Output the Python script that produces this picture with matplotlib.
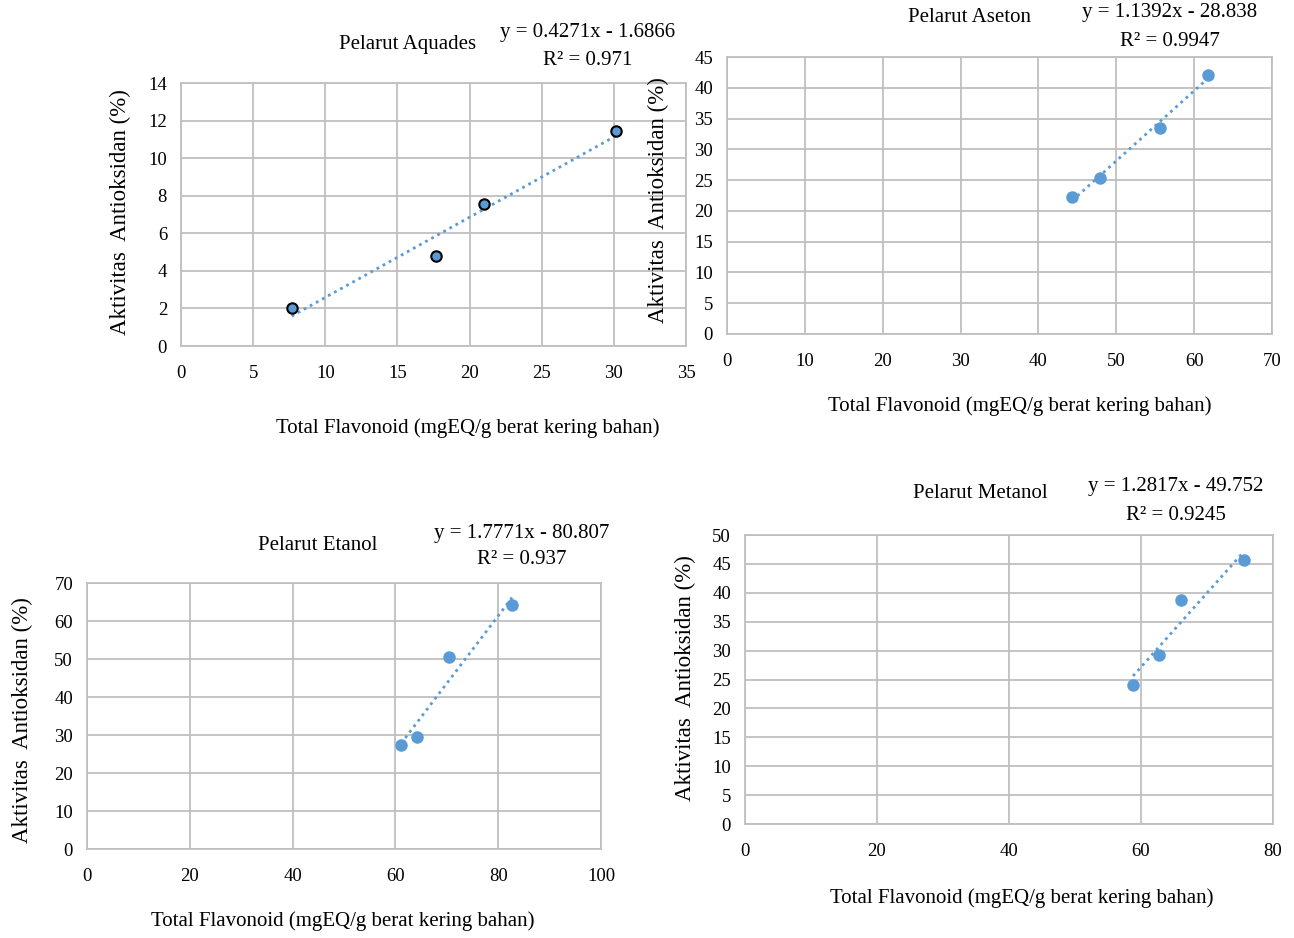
import numpy as np
import matplotlib
matplotlib.use("Agg")
import matplotlib.pyplot as plt

plt.rcParams['font.family'] = ['Liberation Serif', 'DejaVu Serif']

# data
aquades_x = [7.67, 17.65, 21.02, 30.15]
aquades_y = [2.0, 4.81, 7.56, 11.46]
aseton_x = [44.35, 47.9, 55.6, 61.8]
aseton_y = [22.2, 25.3, 33.5, 42.0]
etanol_x = [61.1, 64.2, 70.4, 82.7]
etanol_y = [27.3, 29.6, 50.4, 64.1]
metanol_x = [58.8, 62.7, 66.0, 75.6]
metanol_y = [24.1, 29.3, 38.8, 45.6]

titles = ['Pelarut Aquades', 'Pelarut Aseton', 'Pelarut Etanol', 'Pelarut Metanol']
slopes = [0.4271, 1.1392, 1.7771, 1.2817]
intercepts = [-1.6866, -28.838, -80.807, -49.752]
r2_text = ['0.971', '0.9947', '0.937', '0.9245']
eq_text = ['y = 0.4271x - 1.6866', 'y = 1.1392x - 28.838',
           'y = 1.7771x - 80.807', 'y = 1.2817x - 49.752']

W, H = 1294, 938
fig = plt.figure(figsize=(W / 100, H / 100), dpi=100)

def px(x, y):
    return x / W, 1 - y / H

blue = '#5B9BD5'
grid = '#BFBFBF'

# left, right, top, bottom in pixels; x range, y range, ticks
panels = [
    dict(x=aquades_x, y=aquades_y, box=(181, 686, 83, 346), xlim=(0, 35), xstep=5,
         ylim=(0, 14), ystep=2, edge='black',
         title=(408, 44), eq=(588, 32), r2=(588, 60), ylab=(120, 212), xlab=(468, 428)),
    dict(x=aseton_x, y=aseton_y, box=(727, 1272, 57, 334), xlim=(0, 70), xstep=10,
         ylim=(0, 45), ystep=5, edge=blue,
         title=(970, 18), eq=(1170, 13), r2=(1170, 41), ylab=(658, 200), xlab=(1020, 406)),
    dict(x=etanol_x, y=etanol_y, box=(87, 601, 583, 849), xlim=(0, 100), xstep=20,
         ylim=(0, 70), ystep=10, edge=blue,
         title=(318, 545), eq=(522, 533), r2=(522, 560), ylab=(22, 720), xlab=(343, 921)),
    dict(x=metanol_x, y=metanol_y, box=(745, 1273, 535, 824), xlim=(0, 80), xstep=20,
         ylim=(0, 50), ystep=5, edge=blue,
         title=(980, 494), eq=(1176, 486), r2=(1176, 515), ylab=(685, 678), xlab=(1022, 898)),
]

for i, p in enumerate(panels):
    l, r, t, b = p['box']
    ax = fig.add_axes([l / W, 1 - b / H, (r - l) / W, (b - t) / H])
    ax.set_xlim(*p['xlim'])
    ax.set_ylim(*p['ylim'])
    ax.set_xticks(np.arange(p['xlim'][0], p['xlim'][1] + 0.1, p['xstep']))
    ax.set_yticks(np.arange(p['ylim'][0], p['ylim'][1] + 0.1, p['ystep']))
    ax.grid(True, color=grid, linewidth=1.3)
    ax.set_axisbelow(True)
    for s in ax.spines.values():
        s.set_color(grid)
        s.set_linewidth(1.3)
    ax.tick_params(length=0, labelsize=13.5)
    ax.tick_params(axis='x', pad=14)
    ax.tick_params(axis='y', pad=10)

    xs = np.array(p['x'])
    tx = np.array([xs.min(), xs.max()])
    ax.plot(tx, slopes[i] * tx + intercepts[i], color=blue, linestyle=(0, (1, 1.5)),
            linewidth=2, zorder=2)
    ax.plot(xs, p['y'], 'o', color=blue, markersize=7.5, markeredgecolor=p['edge'],
            markeredgewidth=1.5, zorder=3)

    fig.text(*px(*p['title']), titles[i], ha='center', va='center', fontsize=15)
    fig.text(*px(*p['eq']), eq_text[i], ha='center', va='center', fontsize=15)
    fig.text(*px(*p['r2']), 'R² = ' + r2_text[i], ha='center', va='center', fontsize=15)
    fig.text(*px(*p['ylab']), 'Aktivitas  Antioksidan (%)', ha='center', va='center',
             rotation=90, fontsize=16.5)
    fig.text(*px(*p['xlab']), 'Total Flavonoid (mgEQ/g berat kering bahan)', ha='center',
             va='center', fontsize=15)

fig.savefig('out.png', dpi=100)
